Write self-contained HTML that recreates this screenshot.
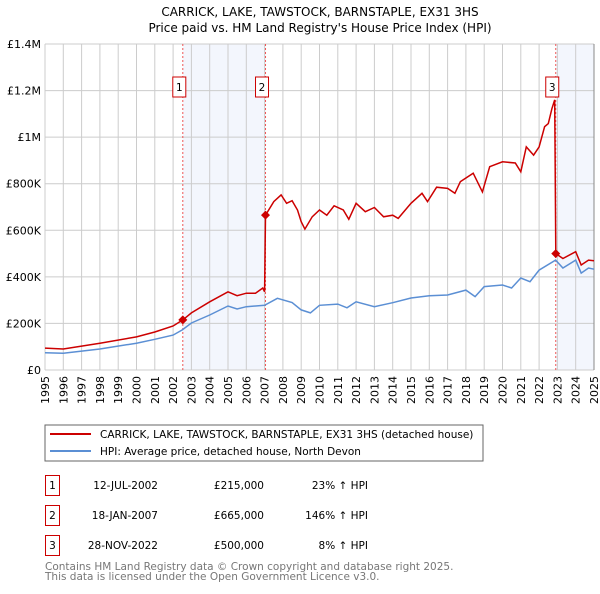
<!DOCTYPE html>
<html><head><meta charset="utf-8">
<style>
body{margin:0;background:#fff;width:600px;height:590px;overflow:hidden;font-family:"DejaVu Sans","Liberation Sans",sans-serif;}
svg text{font-family:"DejaVu Sans","Liberation Sans",sans-serif;}
</style></head>
<body>
<svg id="chart" width="600" height="590" xmlns="http://www.w3.org/2000/svg">
<text x="320" y="16" text-anchor="middle" font-size="12">CARRICK, LAKE, TAWSTOCK, BARNSTAPLE, EX31 3HS</text>
<text x="320" y="32" text-anchor="middle" font-size="12">Price paid vs. HM Land Registry's House Price Index (HPI)</text>
<g id="plot"></g>
<rect x="45" y="425" width="438" height="36" fill="#fff" stroke="#666"/>
<line x1="50" y1="434" x2="91" y2="434" stroke="#cc0000" stroke-width="2"/>
<text x="100" y="438" font-size="10.5">CARRICK, LAKE, TAWSTOCK, BARNSTAPLE, EX31 3HS (detached house)</text>
<line x1="50" y1="451" x2="91" y2="451" stroke="#5b8fd4" stroke-width="2"/>
<text x="100" y="455" font-size="10.5">HPI: Average price, detached house, North Devon</text>
<g font-size="10.5">
<rect x="45.5" y="475.5" width="14" height="20" fill="none" stroke="#cc0000"/>
<text x="52.5" y="489" text-anchor="middle">1</text>
<text x="158" y="489" text-anchor="end">12-JUL-2002</text>
<text x="264" y="489" text-anchor="end">£215,000</text>
<text x="368" y="489" text-anchor="end">23% ↑ HPI</text>
<rect x="45.5" y="505.5" width="14" height="20" fill="none" stroke="#cc0000"/>
<text x="52.5" y="519" text-anchor="middle">2</text>
<text x="158" y="519" text-anchor="end">18-JAN-2007</text>
<text x="264" y="519" text-anchor="end">£665,000</text>
<text x="368" y="519" text-anchor="end">146% ↑ HPI</text>
<rect x="45.5" y="535.5" width="14" height="20" fill="none" stroke="#cc0000"/>
<text x="52.5" y="549" text-anchor="middle">3</text>
<text x="158" y="549" text-anchor="end">28-NOV-2022</text>
<text x="264" y="549" text-anchor="end">£500,000</text>
<text x="368" y="549" text-anchor="end">8% ↑ HPI</text>
</g>
<text x="45" y="570" font-size="10.5" fill="#777">Contains HM Land Registry data © Crown copyright and database right 2025.</text>
<text x="45" y="580" font-size="10.5" fill="#777">This data is licensed under the Open Government Licence v3.0.</text>
</svg>
<script>
const hpiYears=[1995,1996,1998,2000,2001,2002,2002.5,2003,2004,2005,2005.5,2006,2007,2007.7,2008.5,2009,2009.5,2010,2011,2011.5,2012,2013,2014,2015,2016,2017,2018,2018.5,2019,2020,2020.5,2021,2021.5,2022,2022.9,2023.3,2024,2024.3,2024.7,2025];
const hpiValues=[74000,72000,90000,115000,132000,150000,172000,202000,236000,275000,262000,272000,278000,308000,290000,258000,245000,278000,283000,267000,293000,272000,289000,309000,319000,322000,343000,315000,358000,365000,352000,395000,379000,429000,472000,438000,472000,416000,438000,433000];
const redYears=[1995,1996,1998,2000,2001,2002,2002.53,2003,2004,2005,2005.5,2006,2006.5,2006.9,2007.0,2007.05,2007.5,2007.9,2008.2,2008.5,2008.8,2009,2009.2,2009.6,2010,2010.4,2010.8,2011.3,2011.6,2012,2012.5,2013,2013.5,2014,2014.3,2015,2015.6,2015.9,2016.4,2017,2017.4,2017.7,2018.4,2018.9,2019.3,2020,2020.7,2021,2021.3,2021.7,2022,2022.3,2022.5,2022.7,2022.85,2022.91,2023.3,2024,2024.3,2024.7,2025];
const redValues=[94000,90000,115000,142000,163000,189000,215000,245000,293000,336000,319000,330000,330000,352000,336000,665000,723000,752000,716000,727000,687000,637000,605000,658000,687000,665000,705000,687000,647000,716000,680000,698000,658000,665000,651000,716000,759000,723000,785000,780000,759000,809000,845000,765000,873000,894000,889000,851000,958000,923000,958000,1045000,1058000,1122000,1160000,500000,479000,508000,451000,472000,469000];
const saleYears=[2002.53,2007.05,2022.91];
const saleValues=[215000,665000,500000];
const saleLabels=["1","2","3"];
const yTicks=[0,200000,400000,600000,800000,1000000,1200000,1400000];
const yTickLabels=["£0","£200K","£400K","£600K","£800K","£1M","£1.2M","£1.4M"];
const xTicks=[1995,1996,1997,1998,1999,2000,2001,2002,2003,2004,2005,2006,2007,2008,2009,2010,2011,2012,2013,2014,2015,2016,2017,2018,2019,2020,2021,2022,2023,2024,2025];

const X0=45,X1=594,Y0=370,Y1=44;
const xs=v=>X0+(v-1995)/30*(X1-X0);
const ys=v=>Y0-v/1400000*(Y0-Y1);
const NS="http://www.w3.org/2000/svg";
const g=document.getElementById('plot');
function mk(t,a){const e=document.createElementNS(NS,t);for(const k in a)e.setAttribute(k,a[k]);g.appendChild(e);return e;}

let e;
e=mk('rect',{x:xs(saleYears[0]),y:Y1,width:xs(saleYears[1])-xs(saleYears[0]),height:Y0-Y1,fill:'#f3f6fd'});


e=mk('rect',{x:xs(saleYears[2]),y:Y1,width:X1-xs(saleYears[2]),height:Y0-Y1,fill:'#f3f6fd'});



xTicks.forEach(t=>{
  e=mk('line',{x1:xs(t),x2:xs(t),y1:Y1,y2:Y0,stroke:'#cccccc','stroke-width':1});
  
  
  e=mk('text',{x:0,y:0,'font-size':11,'text-anchor':'end',transform:`translate(${xs(t)+4},${Y0+6}) rotate(-90)`});
  e.textContent=t;
  
  
});
yTicks.forEach((t,i)=>{
  e=mk('line',{x1:X0,x2:X1,y1:ys(t),y2:ys(t),stroke:'#cccccc','stroke-width':1});
  
  
  e=mk('text',{x:X0-4,y:ys(t)+4,'font-size':11,'text-anchor':'end'});
  e.textContent=yTickLabels[i];
  
  
});
e=mk('line',{x1:X1,x2:X1,y1:Y1,y2:Y0,stroke:'#888','stroke-width':1});



saleYears.forEach((s,i)=>{
  e=mk('line',{x1:xs(s),x2:xs(s),y1:Y1,y2:Y0,stroke:'#ee5555','stroke-width':1,'stroke-dasharray':'2,2'});
  
  
});

function path(xa,va){return xa.map((x,i)=>(i?'L':'M')+xs(x).toFixed(1)+','+ys(va[i]).toFixed(1)).join('');}
e=mk('path',{d:path(hpiYears,hpiValues),fill:'none',stroke:'#5b8fd4','stroke-width':1.5});


e=mk('path',{d:path(redYears,redValues),fill:'none',stroke:'#cc0000','stroke-width':1.5});



saleYears.forEach((s,i)=>{
  const cx=xs(s),cy=ys(saleValues[i]);
  e=mk('path',{d:`M${cx},${cy-4.5}L${cx+4.5},${cy}L${cx},${cy+4.5}L${cx-4.5},${cy}Z`,fill:'#cc0000'});
  
  
  const bx=cx-3.5;
  e=mk('rect',{x:bx-6.5,y:77,width:13,height:20,fill:'#fff',stroke:'#cc0000'});
  
  
  e=mk('text',{x:bx,y:91,'font-size':10.5,'text-anchor':'middle'});
  e.textContent=saleLabels[i];
  
  
});
</script>
</body></html>
